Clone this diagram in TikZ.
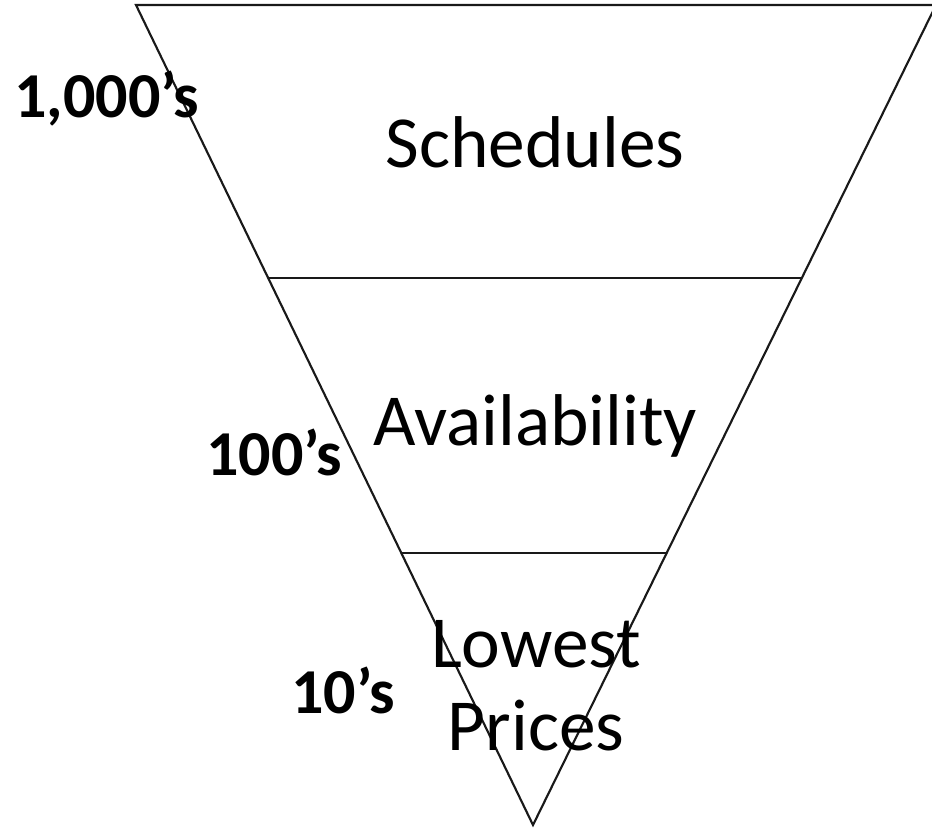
\documentclass[tikz,border=0pt]{standalone}
\usepackage{fontspec}
\setmainfont{Carlito}
\usetikzlibrary{calc}
\tikzset{
  edge/.style={draw=black!90, line width=1.6pt},
  tier/.style={anchor=base, inner sep=0pt, font=\fontsize{55}{62}\selectfont, align=center},
  count/.style={anchor=base west, inner sep=0pt, font=\fontsize{48}{52}\selectfont\bfseries}
}
\begin{document}
\begin{tikzpicture}[x=0.75pt,y=-0.75pt]
\useasboundingbox (0,0) rectangle (932,829);
\coordinate (tl) at (136,5);
\coordinate (tr) at (936,5);
\coordinate (ap) at (533,825);
\coordinate (l1) at ($(tl)!0.333!(ap)$);
\coordinate (r1) at ($(tr)!0.333!(ap)$);
\coordinate (l2) at ($(tl)!0.668!(ap)$);
\coordinate (r2) at ($(tr)!0.668!(ap)$);
\draw[edge, line join=miter] (tl) -- (tr) -- (ap) -- cycle;
\draw[edge] (l1) -- (r1);
\draw[edge] (l2) -- (r2);
\node[tier] (sch) at (535,167) {Schedules};
\node[tier] (ava) at (535,445) {Availability};
\node[tier] (low) at (536,750) {Lowest\\Prices};
\node[count] (k) at (14,117) {1,000’s};
\node[count] (h) at (206,475) {100’s};
\node[count] (t) at (291,713) {10’s};
\end{tikzpicture}
\end{document}
